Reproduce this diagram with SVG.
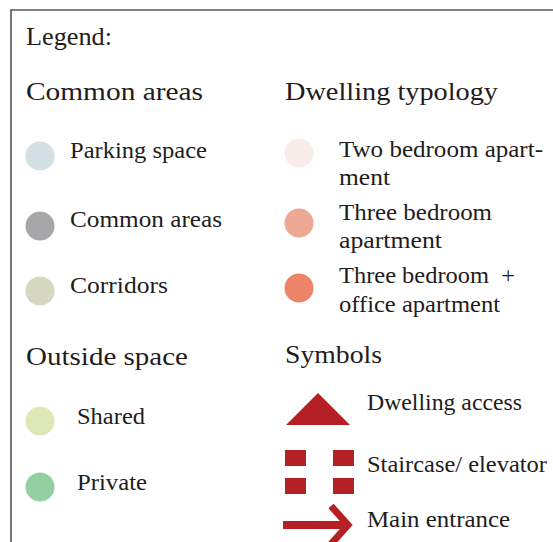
<svg xmlns="http://www.w3.org/2000/svg" width="553" height="542" viewBox="0 0 553 542">
<style>
text{font-family:"Liberation Serif","Times New Roman",serif;fill:#1f1c1d}
.h{font-size:26px}
.t{font-size:24px}
.red{fill:#b52025}
.dot{stroke:none}
</style>
<rect width="553" height="542" fill="#ffffff"/>
<path d="M11 542 V10 H553" fill="none" stroke="#555555" stroke-width="1.6"/>
<g id="title"><text class="h" x="26" y="45" textLength="86" lengthAdjust="spacingAndGlyphs">Legend:</text></g>
<g id="head-common"><text class="h" x="26" y="100" textLength="177" lengthAdjust="spacingAndGlyphs">Common areas</text></g>
<g id="head-dwelling"><text class="h" x="285" y="100" textLength="213" lengthAdjust="spacingAndGlyphs">Dwelling typology</text></g>
<g id="head-outside"><text class="h" x="26" y="365" textLength="162" lengthAdjust="spacingAndGlyphs">Outside space</text></g>
<g id="head-symbols"><text class="h" x="285" y="363" textLength="97" lengthAdjust="spacingAndGlyphs">Symbols</text></g>

<g id="parking"><circle class="dot" cx="40" cy="156" r="14.5" fill="#d3dfe4"/><text class="t" x="70" y="158" textLength="137" lengthAdjust="spacingAndGlyphs">Parking space</text></g>
<g id="common"><circle class="dot" cx="40" cy="226" r="14.5" fill="#a7a7a9"/><text class="t" x="70" y="227" textLength="152" lengthAdjust="spacingAndGlyphs">Common areas</text></g>
<g id="corridors"><circle class="dot" cx="40" cy="291" r="14.5" fill="#d6d7c1"/><text class="t" x="70" y="293" textLength="98" lengthAdjust="spacingAndGlyphs">Corridors</text></g>

<g id="two-bedroom"><circle class="dot" cx="299" cy="153" r="14.5" fill="#f9ede9"/><text class="t" x="339" y="157" textLength="204" lengthAdjust="spacingAndGlyphs">Two bedroom apart-</text><text class="t" x="339" y="185" textLength="51" lengthAdjust="spacingAndGlyphs">ment</text></g>
<g id="three-bedroom"><circle class="dot" cx="299" cy="223" r="14.5" fill="#eea995"/><text class="t" x="339" y="220" textLength="153" lengthAdjust="spacingAndGlyphs">Three bedroom</text><text class="t" x="339" y="248" textLength="103" lengthAdjust="spacingAndGlyphs">apartment</text></g>
<g id="three-bedroom-office"><circle class="dot" cx="299" cy="288" r="14.5" fill="#ee8467"/><text class="t" x="339" y="283" textLength="176" lengthAdjust="spacingAndGlyphs" xml:space="preserve">Three bedroom  +</text><text class="t" x="339" y="312" textLength="161" lengthAdjust="spacingAndGlyphs">office apartment</text></g>

<g id="shared"><circle class="dot" cx="40" cy="421" r="14.5" fill="#dde8b6"/><text class="t" x="77" y="424" textLength="68" lengthAdjust="spacingAndGlyphs">Shared</text></g>
<g id="private"><circle class="dot" cx="40" cy="487" r="14.5" fill="#94cfa2"/><text class="t" x="77" y="490" textLength="70" lengthAdjust="spacingAndGlyphs">Private</text></g>

<g id="dwelling-access"><polygon class="red" points="318,393 286,425 350,425"/><text class="t" x="367" y="410" textLength="155" lengthAdjust="spacingAndGlyphs">Dwelling access</text></g>
<g id="staircase"><rect class="red" x="285" y="450" width="21" height="16"/><rect class="red" x="333" y="450" width="21" height="16"/><rect class="red" x="285" y="478" width="21" height="16"/><rect class="red" x="333" y="478" width="21" height="16"/><text class="t" x="367" y="472" textLength="180" lengthAdjust="spacingAndGlyphs">Staircase/ elevator</text></g>
<g id="main-entrance"><path d="M283 525 H346" stroke="#b52025" stroke-width="8" fill="none"/><path d="M331 506 L348 525 L331 544" stroke="#b52025" stroke-width="7" fill="none"/><text class="t" x="367" y="527" textLength="143" lengthAdjust="spacingAndGlyphs">Main entrance</text></g>
</svg>
